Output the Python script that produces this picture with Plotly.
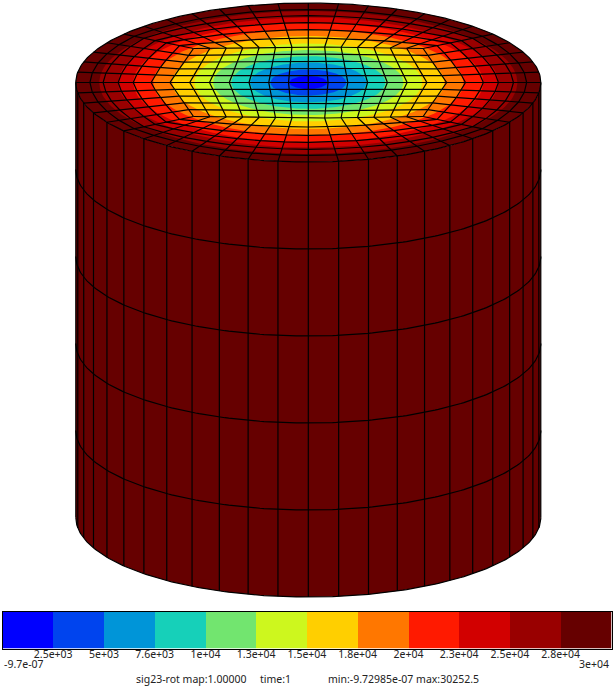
import numpy as np
import plotly.graph_objects as go

# ---- data ----
band_colors = ["#0000ff", "#0044ee", "#0095d8", "#16d0b9", "#72e56f", "#cdf71e",
               "#ffcf00", "#ff7700", "#ff1a00", "#d20000", "#990000", "#660000"]
band_outer_radius = [0.082, 0.163, 0.25, 0.331, 0.409, 0.49,
                     0.585, 0.667, 0.753, 0.817, 0.899, 1.0]
tick_labels = ["2.5e+03", "5e+03", "7.6e+03", "1e+04", "1.3e+04", "1.5e+04",
               "1.8e+04", "2e+04", "2.3e+04", "2.5e+04", "2.8e+04"]
value_min = -9.72985e-07
value_max = 30252.5
min_label = "-9.7e-07"
max_label = "3e+04"
footer = ["sig23-rot map:1.00000", "time:1", "min:-9.72985e-07 max:30252.5"]

n_around = 48
n_cols = 7           # half-columns of the central block
n_rows = 5           # half-rows of the central block
col_step = 0.085
row_step = 0.09
ring_fraction = [0.2, 0.39, 0.55, 0.71, 0.85, 1.0]   # rings between block and rim
n_storeys = 5

# view
W, H = 613, 687
cx, rx = 308.3, 232.5
cy_top, ry = 82.5, 79.5
storey_h = 87.0


def project(x, y, z=0.0):
    """model x,y in the unit disc, z in storeys down from the top"""
    return cx + rx * np.asarray(x), cy_top - ry * np.asarray(y) + storey_h * z


def block_node(i, j):
    return (i * col_step * (1 - 0.17 * abs(j) / n_rows),
            j * row_step * (1 - 0.05 * abs(i) / n_cols))


fig = go.Figure()

# cylinder body
th = np.linspace(np.pi, 2 * np.pi, 181)
bx, by = project(np.cos(th), np.sin(th), n_storeys)
tx, ty = project(np.cos(th[::-1]), np.sin(th[::-1]), 0)
fig.add_trace(go.Scatter(x=list(bx) + list(tx), y=list(by) + list(ty), mode="lines",
                         fill="toself", fillcolor=band_colors[-1], line=dict(width=0),
                         hoverinfo="skip", showlegend=False))

# top face colour bands, outermost first
th = np.linspace(0, 2 * np.pi, 241)
for r, col in zip(band_outer_radius[::-1], band_colors[::-1]):
    x, y = project(r * np.cos(th), r * np.sin(th))
    fig.add_trace(go.Scatter(x=x, y=y, mode="lines", fill="toself", fillcolor=col,
                             line=dict(width=0), hoverinfo="skip", showlegend=False))

# mesh
lx, ly = [], []


def add(xs, ys):
    lx.extend(list(xs) + [None])
    ly.extend(list(ys) + [None])


# central block
for i in range(-n_cols, n_cols + 1):
    pts = [block_node(i, j) for j in range(-n_rows, n_rows + 1)]
    add(*project([p[0] for p in pts], [p[1] for p in pts]))
for j in range(-n_rows, n_rows + 1):
    pts = [block_node(i, j) for i in range(-n_cols, n_cols + 1)]
    add(*project([p[0] for p in pts], [p[1] for p in pts]))

# boundary of block walked around, matched with rim nodes
boundary = []
for j in range(-n_rows, n_rows):
    boundary.append(block_node(n_cols, j))
for i in range(n_cols, -n_cols, -1):
    boundary.append(block_node(i, n_rows))
for j in range(n_rows, -n_rows, -1):
    boundary.append(block_node(-n_cols, j))
for i in range(-n_cols, n_cols):
    boundary.append(block_node(i, -n_rows))
boundary = np.array(boundary)
ang = np.deg2rad(-7.5 * n_rows + 7.5 * np.arange(n_around))
rim = np.c_[np.cos(ang), np.sin(ang)]

for a, b in zip(boundary, rim):
    add(*project([a[0], b[0]], [a[1], b[1]]))
for t in ring_fraction[:-1]:
    ring = boundary + t * (rim - boundary)
    ring = np.vstack([ring, ring[0]])
    add(*project(ring[:, 0], ring[:, 1]))
# smooth rim
th = np.linspace(0, 2 * np.pi, 361)
add(*project(np.cos(th), np.sin(th)))

# side: vertical lines, front half only
for k in range(0, n_around // 2 + 1):
    a = np.pi + k * 2 * np.pi / n_around
    x0, y0 = project(np.cos(a), np.sin(a), 0)
    x1, y1 = project(np.cos(a), np.sin(a), n_storeys)
    add([x0, x1], [y0, y1])
# side: storey arcs
th = np.linspace(np.pi, 2 * np.pi, 181)
for s in range(1, n_storeys + 1):
    add(*project(np.cos(th), np.sin(th), s))

fig.add_trace(go.Scatter(x=lx, y=ly, mode="lines", line=dict(color="#000000", width=1.2),
                         hoverinfo="skip", showlegend=False))

# colour bar
edges = np.linspace(value_min, value_max, len(band_colors) + 1)
n = len(band_colors)
scale = []
for i, c in enumerate(band_colors):
    scale += [[i / n, c], [(i + 1) / n, c]]
fig.add_trace(go.Heatmap(x=edges, y=[0, 1], z=[[(i + 0.5) for i in range(n)]],
                         zmin=0, zmax=n, colorscale=scale, showscale=False,
                         hoverinfo="skip", xaxis="x2", yaxis="y2"))

FONT = dict(family="Noto Sans", size=10.5, color="#222222")
fig.update_layout(
    width=W, height=H, margin=dict(l=0, r=0, t=0, b=0),
    paper_bgcolor="white", plot_bgcolor="white", showlegend=False,
    font=FONT,
    xaxis=dict(domain=[0, 1], range=[0, W], visible=False, fixedrange=True),
    yaxis=dict(domain=[0, 1], range=[H, 0], visible=False, fixedrange=True),
    xaxis2=dict(domain=[2.5 / W, 611.5 / W], range=[value_min, value_max], anchor="y2",
                tickmode="array", tickvals=list(edges[1:-1]), ticktext=tick_labels,
                ticks="", ticklen=0, showgrid=False, zeroline=False, tickangle=0,
                ticklabelstandoff=-4,
                showline=True, mirror=True, linecolor="black", linewidth=1,
                tickfont=FONT, fixedrange=True),
    yaxis2=dict(domain=[1 - 648.5 / H, 1 - 611.5 / H], range=[0, 1], anchor="x2",
                showticklabels=False, ticks="", showgrid=False, zeroline=False,
                showline=True, mirror=True, linecolor="black", linewidth=1,
                fixedrange=True),
    annotations=[
        dict(x=value_min, y=1 - 664 / H, xref="x2", yref="paper", text=min_label, showarrow=False,
             xanchor="left", yanchor="middle", xshift=-1, font=FONT),
        dict(x=value_max, y=1 - 664 / H, xref="x2", yref="paper", text=max_label, showarrow=False,
             xanchor="right", yanchor="middle", xshift=-1, font=FONT),
        dict(x=134 / W, y=1 - 679 / H, xref="paper", yref="paper", text=footer[0], showarrow=False,
             xanchor="left", yanchor="middle", font=FONT),
        dict(x=258 / W, y=1 - 679 / H, xref="paper", yref="paper", text=footer[1], showarrow=False,
             xanchor="left", yanchor="middle", font=FONT),
        dict(x=326 / W, y=1 - 679 / H, xref="paper", yref="paper", text=footer[2], showarrow=False,
             xanchor="left", yanchor="middle", font=FONT),
    ],
)

fig.write_html("out.html", config=dict(displayModeBar=False),
               post_script="document.body.style.margin='0';document.body.style.overflow='hidden';")
